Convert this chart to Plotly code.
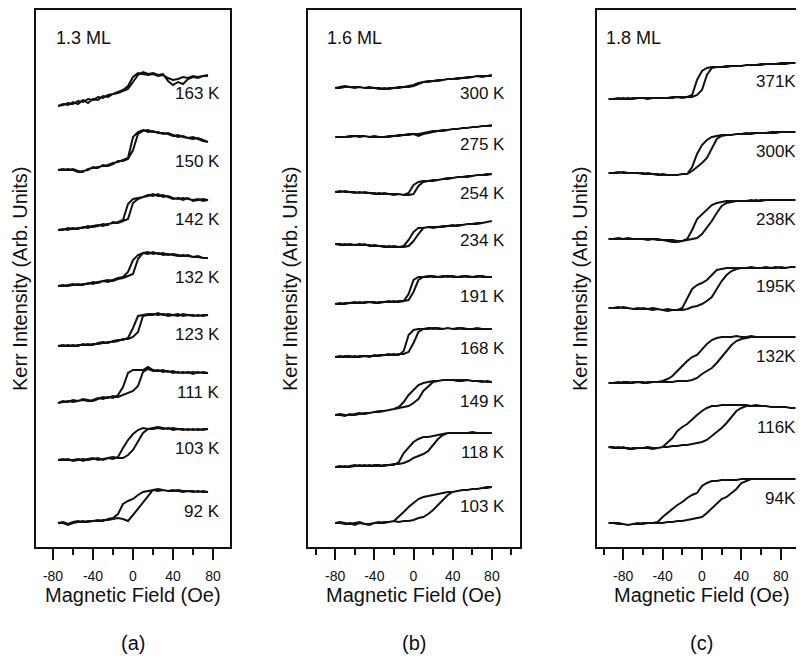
import plotly.graph_objects as go

# field grids (Oe) for each panel
fields_a = list(range(-75, 80, 5))
fields_b = list(range(-80, 85, 5))
fields_c = list(range(-95, 100, 5))

# panel (a) 1.3 ML -- upper (decreasing field) and lower (increasing field) branches
up_a163 = [0, 1, 3, 2, 5, 4, 7, 6, 9, 8, 11, 12, 14, 16, 20, 29, 33, 32, 31, 32, 30, 31, 28, 26, 27, 29, 28, 30, 29, 30, 31]
lo_a163 = [0, 2, 1, 4, 2, 6, 3, 7, 6, 10, 9, 12, 13, 15, 17, 24, 31, 34, 32, 33, 31, 32, 25, 21, 24, 22, 27, 29, 28, 30, 30]
up_a150 = [0, 1, 0, 1, -1, -2, 1, 2, 3, 4, 5, 7, 8, 10, 12, 33, 38, 40, 38, 39, 37, 37, 36, 34, 35, 33, 32, 33, 31, 29, 28]
lo_a150 = [0, 0, 1, 0, -2, -1, 0, 3, 2, 5, 4, 6, 9, 9, 11, 20, 36, 39, 40, 38, 38, 36, 37, 35, 33, 34, 32, 31, 32, 30, 28]
up_a142 = [0, 1, 0, 2, 1, 3, 2, 4, 5, 4, 6, 7, 8, 10, 26, 31, 32, 33, 35, 34, 36, 33, 34, 32, 31, 32, 31, 30, 31, 29, 30]
lo_a142 = [0, 0, 2, 1, 2, 2, 4, 3, 4, 6, 5, 8, 7, 9, 11, 27, 31, 33, 34, 36, 34, 35, 33, 31, 32, 30, 32, 29, 30, 31, 30]
up_a132 = [0, 1, 0, 1, 2, 1, 3, 2, 4, 5, 4, 6, 8, 9, 14, 26, 31, 33, 34, 32, 33, 31, 32, 31, 30, 31, 30, 29, 30, 28, 28]
lo_a132 = [0, 0, 1, 2, 1, 2, 2, 4, 3, 5, 6, 5, 7, 8, 10, 12, 27, 33, 32, 34, 32, 33, 31, 32, 31, 30, 31, 29, 29, 28, 28]
up_a123 = [0, 0, 1, 0, 1, 1, 2, 1, 3, 4, 3, 5, 6, 6, 8, 18, 30, 31, 32, 31, 33, 31, 32, 31, 30, 32, 31, 30, 31, 30, 31]
lo_a123 = [0, 1, 0, 1, 0, 2, 1, 2, 2, 3, 4, 4, 5, 7, 7, 9, 14, 30, 31, 32, 31, 32, 30, 31, 32, 30, 31, 31, 30, 31, 31]
up_a111 = [0, 2, 1, 3, 2, 3, 2, 3, 5, 4, 6, 5, 8, 16, 30, 33, 33, 33, 36, 33, 32, 33, 31, 32, 30, 31, 30, 31, 30, 31, 30]
lo_a111 = [0, 1, 2, 1, 2, 4, 3, 2, 4, 6, 5, 7, 6, 8, 10, 12, 17, 31, 34, 32, 33, 31, 32, 30, 31, 30, 31, 29, 31, 30, 30]
up_a103 = [0, 1, 0, 0, 1, -1, 1, 2, 0, 1, 2, 1, 3, 12, 20, 26, 30, 32, 31, 32, 33, 32, 31, 32, 31, 30, 31, 30, 31, 30, 31]
lo_a103 = [0, 0, 1, -1, 0, 1, 0, 1, 2, 0, 2, 3, 2, 2, 5, 10, 18, 27, 31, 31, 32, 31, 32, 30, 31, 31, 30, 31, 30, 31, 31]
up_a92 = [0, 1, -1, 1, 2, 1, 2, 2, 3, 2, 4, 5, 9, 19, 22, 24, 28, 31, 32, 33, 32, 33, 32, 32, 33, 32, 32, 31, 32, 31, 31]
lo_a92 = [0, 0, -2, 0, 1, 2, 1, 2, 2, 3, 3, 4, 5, 4, 2, 8, 14, 20, 27, 33, 34, 33, 32, 33, 32, 31, 32, 32, 31, 32, 31]

temps_a = ["163 K", "150 K", "142 K", "132 K", "123 K", "111 K", "103 K", "92 K"]
offsets_a = [444, 380, 320, 264, 204, 147, 90, 27]

# panel (b) 1.6 ML
up_b300 = [0, 1, 2, 1, 1, 1, 0, 1, 0, 0, -1, 0, 0, 1, 1, 2, 3, 5, 6, 7, 7, 8, 8, 9, 9, 10, 10, 11, 11, 12, 11, 12, 13]
lo_b300 = [0, 0, 1, 1, 0, 1, 0, 0, 0, -1, 0, -1, 0, 0, 1, 1, 2, 4, 6, 6, 7, 7, 8, 9, 9, 9, 10, 10, 11, 12, 12, 12, 12]
up_b275 = [0, 0, 0, 1, 1, 1, 1, 0, 1, 0, 0, 1, 1, 2, 2, 3, 3, 3, 4, 5, 6, 6, 7, 7, 8, 8, 9, 9, 10, 10, 11, 11, 12]
lo_b275 = [0, 0, 0, 0, 1, 0, 1, 0, 0, 0, 0, 0, 1, 1, 2, 2, 3, 1, 3, 4, 5, 6, 6, 7, 8, 8, 9, 9, 10, 10, 11, 11, 11]
up_b254 = [0, 0, 1, 0, 0, -1, 0, -1, -1, -2, -1, -2, -2, -2, -3, -1, 7, 10, 11, 11, 12, 12, 13, 14, 14, 15, 15, 16, 16, 17, 17, 18, 18]
lo_b254 = [0, 1, 0, 0, -1, 0, -1, -1, -2, -1, -2, -2, -3, -2, -3, -3, -2, 6, 10, 11, 11, 12, 13, 13, 14, 15, 15, 15, 16, 17, 17, 17, 18]
up_b234 = [0, 0, -1, 0, -1, -1, 0, -2, -1, -2, -3, -2, -3, -3, -2, 4, 12, 16, 16, 17, 17, 17, 18, 18, 18, 19, 19, 20, 20, 21, 21, 22, 23]
lo_b234 = [0, -1, 0, -1, -1, 0, -1, -1, -2, -2, -2, -3, -2, -3, -3, -2, 3, 10, 16, 17, 16, 17, 17, 18, 19, 18, 19, 20, 20, 20, 21, 22, 23]
up_b191 = [0, 1, 0, 1, 1, 2, 1, 2, 2, 1, 2, 2, 3, 2, 3, 10, 24, 27, 27, 28, 27, 27, 28, 27, 28, 27, 27, 28, 27, 27, 28, 27, 27]
lo_b191 = [0, 0, 1, 1, 2, 1, 2, 2, 1, 2, 2, 3, 2, 3, 3, 4, 12, 24, 27, 27, 28, 27, 27, 28, 27, 27, 28, 27, 27, 28, 27, 27, 27]
up_b168 = [0, 1, 0, 0, 1, 0, 1, 1, 1, 2, 2, 2, 3, 2, 6, 22, 27, 28, 28, 29, 28, 29, 28, 29, 28, 28, 29, 28, 28, 28, 28, 28, 28]
lo_b168 = [0, 0, 1, 1, 0, 1, 1, 0, 2, 1, 2, 3, 2, 3, 3, 5, 14, 25, 28, 28, 29, 28, 28, 29, 28, 29, 28, 28, 28, 29, 28, 28, 28]
up_b149 = [0, 0, -1, 1, 0, 1, 2, 2, 3, 4, 4, 5, 6, 8, 13, 20, 25, 30, 32, 33, 34, 34, 35, 35, 35, 34, 35, 35, 34, 34, 33, 34, 33]
lo_b149 = [0, 1, 0, 0, 1, 2, 1, 2, 3, 3, 4, 5, 6, 7, 8, 9, 12, 16, 24, 29, 33, 34, 35, 35, 35, 35, 34, 35, 34, 34, 34, 33, 33]
up_b118 = [0, 0, 1, 0, 1, 2, 1, 2, 1, 1, 2, 2, 2, 5, 14, 20, 25, 28, 30, 30, 31, 32, 33, 34, 34, 34, 34, 34, 34, 34, 34, 34, 34]
lo_b118 = [0, 1, 0, 1, 2, 1, 2, 1, 2, 2, 1, 2, 3, 3, 4, 6, 9, 11, 13, 16, 22, 28, 32, 34, 34, 34, 34, 34, 35, 34, 34, 34, 34]
up_b103 = [0, 1, 0, -1, 0, 1, -1, -2, 0, 1, 0, 1, 2, 6, 11, 16, 20, 24, 26, 27, 28, 29, 30, 31, 31, 32, 33, 33, 34, 34, 35, 36, 36]
lo_b103 = [0, 0, -1, 0, -2, 0, -1, -1, 0, 0, 1, 1, 2, 1, 2, 2, 3, 5, 6, 9, 13, 18, 23, 28, 31, 32, 33, 33, 34, 34, 35, 35, 36]

temps_b = ["300 K", "275 K", "254 K", "234 K", "191 K", "168 K", "149 K", "118 K", "103 K"]
offsets_b = [462, 413, 358, 306, 246, 193, 135, 83, 27]

# panel (c) 1.8 ML
up_c371 = [0, 0, 0, 1, 0, 1, 1, 1, 1, 1, 1, 1, 1, 2, 2, 2, 2, 4, 19, 28, 31, 32, 32, 32, 33, 33, 33, 33, 34, 34, 34, 35, 35, 35, 35, 35, 36, 36, 36]
lo_c371 = [0, 0, 1, 0, 1, 0, 1, 1, 0, 1, 1, 1, 1, 1, 2, 1, 2, 2, 4, 9, 24, 31, 32, 32, 32, 33, 33, 33, 34, 34, 34, 34, 35, 35, 35, 36, 35, 36, 36]
up_c300 = [0, 0, 1, 0, 0, 0, 0, 0, -1, -1, -1, -2, -2, -2, -2, -1, -1, 6, 19, 28, 33, 36, 37, 38, 38, 38, 39, 39, 40, 39, 40, 40, 40, 40, 41, 41, 41, 41, 41]
lo_c300 = [0, 0, 0, 1, 0, 0, 0, -1, 0, -1, -2, -1, -2, -2, -2, -1, -1, 2, 6, 10, 15, 25, 34, 37, 38, 38, 39, 39, 39, 40, 40, 40, 40, 41, 40, 41, 41, 41, 41]
up_c238 = [0, 0, 0, 0, 1, 0, 0, 0, 0, 0, 0, -1, -1, -1, -2, -2, 0, 9, 20, 25, 29, 34, 36, 37, 38, 38, 38, 38, 38, 38, 39, 38, 39, 39, 39, 39, 39, 39, 39]
lo_c238 = [0, 0, 1, 0, 0, 0, 0, 0, -1, 0, -1, -1, -2, -3, -3, -2, -1, 0, 1, 5, 11, 18, 26, 33, 36, 37, 38, 38, 38, 39, 38, 39, 39, 39, 39, 39, 39, 39, 39]
up_c195 = [0, 0, 1, 0, 0, -1, 0, -1, -1, 0, -1, -2, -1, -2, -2, 0, 10, 19, 23, 25, 28, 33, 38, 39, 40, 40, 40, 40, 40, 41, 40, 40, 40, 40, 41, 40, 40, 41, 41]
lo_c195 = [0, 0, 0, 1, 0, -1, -1, 0, -1, -2, -1, -2, -3, -2, -2, -2, -1, 1, 2, 4, 7, 11, 19, 27, 33, 37, 39, 40, 40, 40, 40, 40, 41, 40, 40, 41, 40, 41, 41]
up_c132 = [0, 0, 1, 0, 0, 1, 1, 0, 1, 1, 1, 2, 4, 7, 12, 17, 22, 26, 28, 34, 39, 43, 45, 46, 46, 46, 47, 46, 46, 47, 46, 46, 46, 46, 46, 46, 46, 46, 46]
lo_c132 = [0, 0, 0, 1, 1, 0, 1, 1, 0, 1, 1, 1, 1, 1, 2, 2, 2, 3, 5, 9, 12, 15, 20, 26, 32, 38, 42, 44, 45, 46, 46, 46, 46, 46, 46, 46, 46, 46, 46]
up_c116 = [0, 0, -1, 0, -2, -1, -1, -1, 0, -1, -1, 0, 4, 9, 16, 20, 23, 27, 32, 36, 39, 41, 41, 42, 42, 42, 42, 42, 42, 41, 41, 41, 41, 40, 40, 40, 40, 39, 39]
lo_c116 = [0, -1, 0, -1, -1, -2, -1, -1, -1, -2, -1, 0, 0, 1, 1, 2, 2, 3, 4, 5, 7, 11, 15, 19, 24, 30, 36, 39, 41, 41, 42, 41, 41, 40, 40, 40, 40, 39, 39]
up_c94 = [0, 0, 0, -1, -2, -1, -1, 0, 0, 0, 1, 6, 10, 14, 18, 21, 25, 28, 30, 37, 40, 42, 42, 43, 43, 43, 43, 44, 44, 44, 44, 44, 44, 44, 44, 44, 44, 44, 44]
lo_c94 = [0, 0, -1, -1, -2, -1, 0, -1, 0, 0, 0, 0, 1, 1, 2, 2, 3, 4, 5, 6, 10, 15, 20, 24, 26, 30, 34, 40, 42, 44, 44, 44, 44, 44, 44, 44, 44, 44, 44]

temps_c = ["371K", "300K", "238K", "195K", "132K", "116K", "94K"]
offsets_c = [451, 377, 311, 242, 167, 103, 27]

tick_vals = [-80, -40, 0, 40, 80]
tick_text = ["-80", "-40", "0", "40", "80"]
thickness = ["1.3 ML", "1.6 ML", "1.8 ML"]
panel_tags = ["(a)", "(b)", "(c)"]

FONT = "Liberation Sans, Arial, Helvetica, sans-serif"
INK = "#111111"

# the page body adds an 8 px margin, so the figure is 8 px smaller than the window
W, H = 796, 652

panels = [
    dict(fields=fields_a, temps=temps_a, offsets=offsets_a,
         loops=[(up_a163, lo_a163), (up_a150, lo_a150), (up_a142, lo_a142), (up_a132, lo_a132),
                (up_a123, lo_a123), (up_a111, lo_a111), (up_a103, lo_a103), (up_a92, lo_a92)],
         xdom=[28 / W, 222 / W], xrange=[-97, 97], label_x=89, ml_x=0.093, right=True),
    dict(fields=fields_b, temps=temps_b, offsets=offsets_b,
         loops=[(up_b300, lo_b300), (up_b275, lo_b275), (up_b254, lo_b254), (up_b234, lo_b234),
                (up_b191, lo_b191), (up_b168, lo_b168), (up_b149, lo_b149), (up_b118, lo_b118),
                (up_b103, lo_b103)],
         xdom=[300 / W, 512 / W], xrange=[-107.7, 108.7], label_x=95, ml_x=0.080, right=True),
    dict(fields=fields_c, temps=temps_c, offsets=offsets_c,
         loops=[(up_c371, lo_c371), (up_c300, lo_c300), (up_c238, lo_c238), (up_c195, lo_c195),
                (up_c132, lo_c132), (up_c116, lo_c116), (up_c94, lo_c94)],
         xdom=[589 / W, 1.0], xrange=[-106.6, 103.6], label_x=97.5, ml_x=0.034, right=False),
]

ydom = [1 - 539 / H, 1 - 2 / H]
yrange = [3, 540]
ytitle_x = [12 / W, 282 / W, 572 / W]

fig = go.Figure()
annotations = []
layout = {}

for k, p in enumerate(panels):
    n = "" if k == 0 else str(k + 1)
    xref, yref = "x" + n, "y" + n
    fields = p["fields"]
    for temp, off, (up, lo) in zip(p["temps"], p["offsets"], p["loops"]):
        x = list(reversed(fields)) + list(fields)
        y = [off + v for v in reversed(up)] + [off + v for v in lo]
        fig.add_trace(go.Scatter(
            x=x, y=y, mode="lines", xaxis=xref, yaxis=yref,
            line=dict(color=INK, width=2), hoverinfo="skip", showlegend=False,
        ))
        annotations.append(dict(
            text=temp, x=p["label_x"], y=off + up[-1] - 19, xref=xref, yref=yref,
            xanchor="right", yanchor="middle", showarrow=False,
            font=dict(family=FONT, size=17, color=INK),
        ))

    layout["xaxis" + n] = dict(
        domain=p["xdom"], range=p["xrange"], anchor=yref,
        showline=True, mirror=True, linecolor=INK, linewidth=2,
        showgrid=False, zeroline=False,
        ticks="outside", ticklen=11, tickwidth=2, tickcolor=INK,
        tickmode="array", tickvals=tick_vals, ticktext=tick_text,
        ticklabelstandoff=4,
        tickfont=dict(family=FONT, size=14, color=INK),
        minor=dict(ticks="outside", ticklen=6, tickwidth=2, tickcolor=INK,
                   dtick=20, tick0=0, showgrid=False),
    )
    layout["yaxis" + n] = dict(
        domain=ydom, range=yrange, anchor=xref,
        showline=True, mirror=p["right"], linecolor=INK, linewidth=2,
        showgrid=False, zeroline=False, showticklabels=False, ticks="",
    )

    annotations.append(dict(
        text=thickness[k], x=p["ml_x"], y=0.948, xref=xref + " domain", yref=yref + " domain",
        xanchor="left", yanchor="middle", showarrow=False,
        font=dict(family=FONT, size=18, color=INK),
    ))
    annotations.append(dict(
        text="Magnetic Field (Oe)", x=0, y=1 - 587 / H, xref=xref, yref="paper",
        xanchor="center", yanchor="middle", showarrow=False,
        font=dict(family=FONT, size=20, color=INK),
    ))
    annotations.append(dict(
        text=panel_tags[k], x=0, y=1 - 635 / H, xref=xref, yref="paper",
        xanchor="center", yanchor="middle", showarrow=False,
        font=dict(family=FONT, size=20, color=INK),
    ))
    annotations.append(dict(
        text="Kerr Intensity (Arb. Units)", x=ytitle_x[k], y=1 - 271 / H,
        xref="paper", yref="paper", textangle=-90,
        xanchor="center", yanchor="middle", showarrow=False,
        font=dict(family=FONT, size=20, color=INK),
    ))

fig.update_layout(
    width=W, height=H,
    margin=dict(l=0, r=0, t=0, b=0),
    paper_bgcolor="white", plot_bgcolor="white",
    showlegend=False,
    annotations=annotations,
    **layout,
)

fig.write_html("out.html")
